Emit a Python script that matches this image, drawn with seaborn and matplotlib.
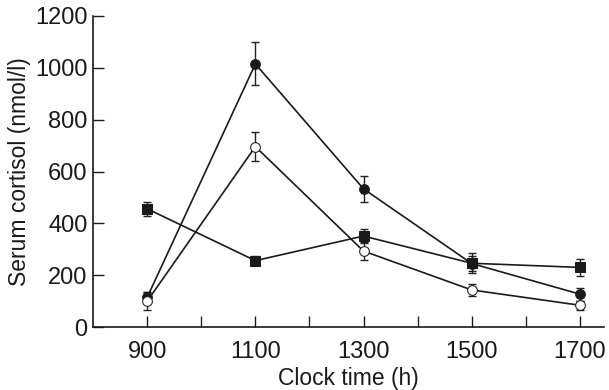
import pandas as pd
import numpy as np
import matplotlib.pyplot as plt
import seaborn as sns
from matplotlib.ticker import FixedLocator

# data
times = [900, 1100, 1300, 1500, 1700]
filled_circle = [115, 1015, 533, 245, 127]
filled_circle_err = [20, 83, 50, 30, 25]
open_circle = [100, 696, 293, 143, 84]
open_circle_err = [35, 55, 35, 22, 18]
square = [456, 256, 351, 246, 230]
square_err = [27, 18, 27, 38, 32]

df = pd.DataFrame({
    "time": times * 3,
    "cortisol": filled_circle + open_circle + square,
    "group": ["filled"] * 5 + ["open"] * 5 + ["square"] * 5,
})

sns.set_style("ticks")
plt.rcParams["font.family"] = ["Liberation Sans", "DejaVu Sans"]

fig = plt.figure(figsize=(6.09, 3.9), dpi=100)
ax = fig.add_axes([0.153, 0.1615, 0.839, 0.7975])

# error bars first, under the markers
for vals, errs in [(filled_circle, filled_circle_err),
                   (open_circle, open_circle_err),
                   (square, square_err)]:
    ax.errorbar(times, vals, yerr=errs, fmt="none", ecolor="#222222",
                elinewidth=1.0, capsize=3, capthick=1.0, zorder=2)

sns.lineplot(data=df, x="time", y="cortisol", style="group",
             markers={"filled": "o", "open": "o", "square": "s"},
             dashes=False, color="#1a1a1a", linewidth=1.2,
             markersize=7, legend=False, ax=ax, zorder=3)

# open circles get a white face
for ln in ax.lines:
    yd = list(ln.get_ydata())
    if yd == open_circle:
        ln.set_markerfacecolor("white")
        ln.set_markeredgecolor("#1a1a1a")
    elif yd in (filled_circle, square):
        ln.set_markerfacecolor("#1a1a1a")
        ln.set_markeredgecolor("#1a1a1a")

ax.set_xlim(800, 1745)
ax.set_ylim(0, 1200)
ax.set_xticks(times)
ax.xaxis.set_minor_locator(FixedLocator([1000, 1200, 1400, 1600]))
ax.set_yticks(range(0, 1201, 200))

ax.tick_params(axis="both", direction="in", length=8, width=1, labelsize=17,
               colors="#1a1a1a")
ax.tick_params(axis="y", pad=4)
ax.tick_params(axis="x", pad=10)
ax.tick_params(axis="x", which="minor", direction="in", length=8, width=1)
for s in ["left", "bottom"]:
    ax.spines[s].set_linewidth(1.2)
    ax.spines[s].set_color("#1a1a1a")
sns.despine(ax=ax)

ax.set_xlabel("Clock time (h)", fontsize=16.5, color="#1a1a1a", labelpad=3)
ax.set_ylabel("Serum cortisol (nmol/l)", fontsize=16.5, color="#1a1a1a", labelpad=3)

fig.savefig("out.png", dpi=100)
